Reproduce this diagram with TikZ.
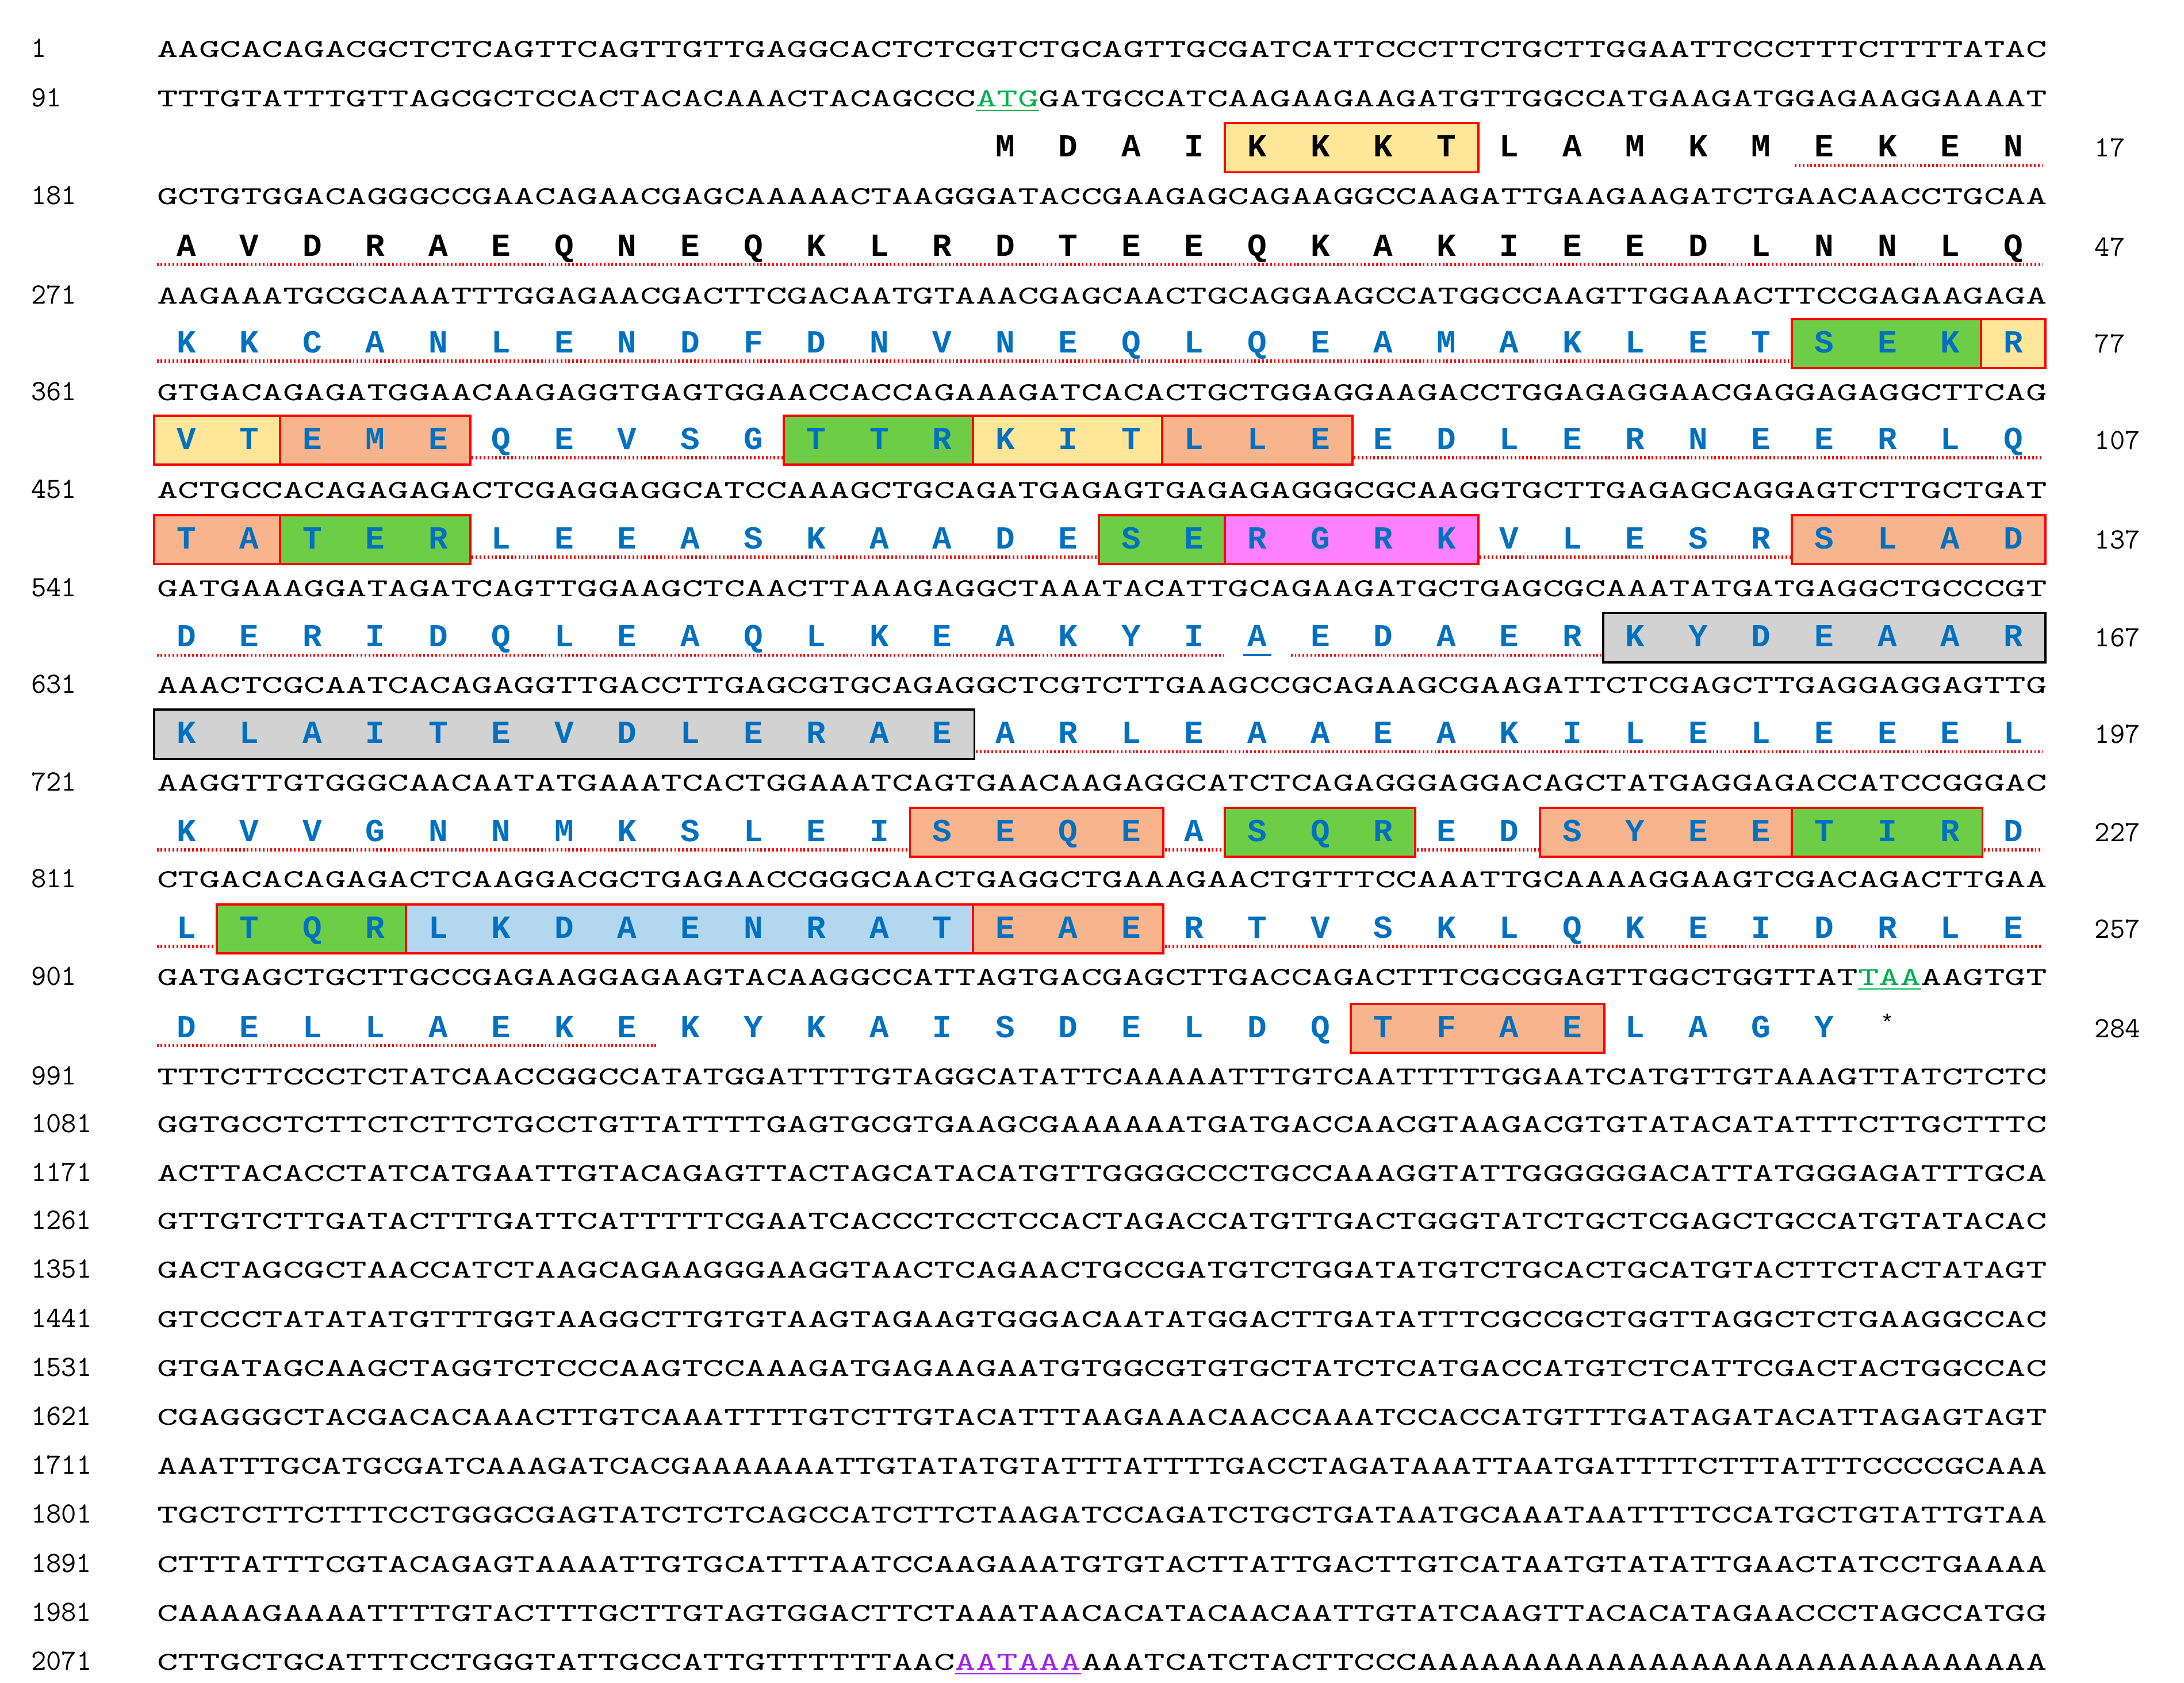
\documentclass[tikz,border=0pt]{standalone}
\usepackage{fontspec}
\usepackage{graphicx}
\newfontfamily\resf{Liberation Mono}
\newcommand\dnaf{\ttfamily}
\newcommand\numf{\ttfamily}
\definecolor{pblue}{RGB}{0,112,192}
\definecolor{gyel}{RGB}{255,230,153}
\definecolor{gorg}{RGB}{248,180,140}
\definecolor{ggrn}{RGB}{110,205,70}
\definecolor{gmag}{RGB}{255,128,255}
\definecolor{ggry}{RGB}{210,210,210}
\definecolor{glbl}{RGB}{180,215,240}
\definecolor{atgc}{RGB}{0,176,80}
\definecolor{polya}{RGB}{160,32,240}
\tikzset{
 res/.style={inner sep=0pt,anchor=base,font=\resf\bfseries\fontsize{23}{23}\selectfont},
 dnal/.style={inner sep=0pt,anchor=base west},
 lnum/.style={inner sep=0pt,anchor=base west,font=\numf\fontsize{21}{21}\selectfont},
 redul/.style={draw=red,line width=2.2pt,dash pattern=on 1.2pt off 1.6pt},
}
\newcommand\dnaline[4]{% name, y, number, text
 \node[lnum] (n#1) at (22,#2+6) {#3};
 \node[dnal] (d#1) at (112,#2+6) {\resizebox{1350pt}{11.5pt}{\dnaf #4}};}
\newcommand\prot[4]{% y, x0, color, list
 \foreach \r [count=\i from 0] in {#4} {\node[res,text=#3] (r#1-\i) at ({#2+45*\i},#1+7) {\r};}}
\newcommand\seg[6]{% y,x0,i,j,fill,border
 \draw[fill=#5,draw=#6,line width=1.6pt] ({#2+45*#3-23},#1-17) rectangle ({#2+45*#4+23},#1+18);}
\newcommand\ulr[4]{% y,x0,i,j
 \draw[redul] ({#2+45*#3-21},#1+13) -- ({#2+45*#4+21},#1+13);}
\newcommand\rnum[3]{\node[lnum] (rn#1) at (1496,#1+7) {#2};}
\begin{document}
\begin{tikzpicture}[x=1pt,y=-1pt]
\useasboundingbox[fill=white] (0,0) rectangle (1560,1202);
% boxes
\seg{105}{718}{4}{7}{gyel}{red}
\seg{245}{133}{26}{28}{ggrn}{red}\seg{245}{133}{29}{29}{gyel}{red}
\seg{314}{133}{0}{1}{gyel}{red}\seg{314}{133}{2}{4}{gorg}{red}\seg{314}{133}{10}{12}{ggrn}{red}\seg{314}{133}{13}{15}{gyel}{red}\seg{314}{133}{16}{18}{gorg}{red}
\seg{385}{133}{0}{1}{gorg}{red}\seg{385}{133}{2}{4}{ggrn}{red}\seg{385}{133}{15}{16}{ggrn}{red}\seg{385}{133}{17}{20}{gmag}{red}\seg{385}{133}{26}{29}{gorg}{red}
\seg{455}{133}{23}{29}{ggry}{black}
\seg{524}{133}{0}{12}{ggry}{black}
\seg{594}{133}{12}{15}{gorg}{red}\seg{594}{133}{17}{19}{ggrn}{red}\seg{594}{133}{22}{25}{gorg}{red}\seg{594}{133}{26}{28}{ggrn}{red}
\seg{663}{133}{1}{3}{ggrn}{red}\seg{663}{133}{4}{12}{glbl}{red}\seg{663}{133}{13}{15}{gorg}{red}
\seg{734}{133}{19}{22}{gorg}{red}
% underlines
\ulr{105}{718}{13}{16}
\ulr{176}{133}{0}{29}
\ulr{245}{133}{0}{25}
\ulr{314}{133}{5}{9}\ulr{314}{133}{19}{29}
\ulr{385}{133}{5}{14}\ulr{385}{133}{21}{25}
\ulr{455}{133}{0}{16}\ulr{455}{133}{18}{22}
\draw[draw=pblue,line width=1.6pt] (133+45*17-10,455+13) -- (133+45*17+10,455+13);
\ulr{524}{133}{13}{29}
\ulr{594}{133}{0}{11}\ulr{594}{133}{16}{16}\ulr{594}{133}{20}{21}\ulr{594}{133}{29}{29}
\ulr{663}{133}{0}{0}\ulr{663}{133}{16}{29}
\ulr{734}{133}{0}{7}
% DNA
\dnaline{1}{35}{1}{AAGCACAGACGCTCTCAGTTCAGTTGTTGAGGCACTCTCGTCTGCAGTTGCGATCATTCCCTTCTGCTTGGAATTCCCTTTCTTTTATAC}
\dnaline{2}{70}{91}{TTTGTATTTGTTAGCGCTCCACTACACAAACTACAGCCC\textcolor{atgc}{\underline{ATG}}GATGCCATCAAGAAGAAGATGTTGGCCATGAAGATGGAGAAGGAAAAT}
\dnaline{3}{140}{181}{GCTGTGGACAGGGCCGAACAGAACGAGCAAAAACTAAGGGATACCGAAGAGCAGAAGGCCAAGATTGAAGAAGATCTGAACAACCTGCAA}
\dnaline{4}{211}{271}{AAGAAATGCGCAAATTTGGAGAACGACTTCGACAATGTAAACGAGCAACTGCAGGAAGCCATGGCCAAGTTGGAAACTTCCGAGAAGAGA}
\dnaline{5}{280}{361}{GTGACAGAGATGGAACAAGAGGTGAGTGGAACCACCAGAAAGATCACACTGCTGGAGGAAGACCTGGAGAGGAACGAGGAGAGGCTTCAG}
\dnaline{6}{350}{451}{ACTGCCACAGAGAGACTCGAGGAGGCATCCAAAGCTGCAGATGAGAGTGAGAGAGGGCGCAAGGTGCTTGAGAGCAGGAGTCTTGCTGAT}
\dnaline{7}{420}{541}{GATGAAAGGATAGATCAGTTGGAAGCTCAACTTAAAGAGGCTAAATACATTGCAGAAGATGCTGAGCGCAAATATGATGAGGCTGCCCGT}
\dnaline{8}{489}{631}{AAACTCGCAATCACAGAGGTTGACCTTGAGCGTGCAGAGGCTCGTCTTGAAGCCGCAGAAGCGAAGATTCTCGAGCTTGAGGAGGAGTTG}
\dnaline{9}{559}{721}{AAGGTTGTGGGCAACAATATGAAATCACTGGAAATCAGTGAACAAGAGGCATCTCAGAGGGAGGACAGCTATGAGGAGACCATCCGGGAC}
\dnaline{10}{628}{811}{CTGACACAGAGACTCAAGGACGCTGAGAACCGGGCAACTGAGGCTGAAAGAACTGTTTCCAAATTGCAAAAGGAAGTCGACAGACTTGAA}
\dnaline{11}{698}{901}{GATGAGCTGCTTGCCGAGAAGGAGAAGTACAAGGCCATTAGTGACGAGCTTGACCAGACTTTCGCGGAGTTGGCTGGTTAT\textcolor{atgc}{\underline{TAA}}AAGTGT}
\dnaline{12}{769}{991}{TTTCTTCCCTCTATCAACCGGCCATATGGATTTTGTAGGCATATTCAAAAATTTGTCAATTTTTGGAATCATGTTGTAAAGTTATCTCTC}
\dnaline{13}{803}{1081}{GGTGCCTCTTCTCTTCTGCCTGTTATTTTGAGTGCGTGAAGCGAAAAAATGATGACCAACGTAAGACGTGTATACATATTTCTTGCTTTC}
\dnaline{14}{838}{1171}{ACTTACACCTATCATGAATTGTACAGAGTTACTAGCATACATGTTGGGGCCCTGCCAAAGGTATTGGGGGGACATTATGGGAGATTTGCA}
\dnaline{15}{872}{1261}{GTTGTCTTGATACTTTGATTCATTTTTCGAATCACCCTCCTCCACTAGACCATGTTGACTGGGTATCTGCTCGAGCTGCCATGTATACAC}
\dnaline{16}{907}{1351}{GACTAGCGCTAACCATCTAAGCAGAAGGGAAGGTAACTCAGAACTGCCGATGTCTGGATATGTCTGCACTGCATGTACTTCTACTATAGT}
\dnaline{17}{942}{1441}{GTCCCTATATATGTTTGGTAAGGCTTGTGTAAGTAGAAGTGGGACAATATGGACTTGATATTTCGCCGCTGGTTAGGCTCTGAAGGCCAC}
\dnaline{18}{977}{1531}{GTGATAGCAAGCTAGGTCTCCCAAGTCCAAAGATGAGAAGAATGTGGCGTGTGCTATCTCATGACCATGTCTCATTCGACTACTGGCCAC}
\dnaline{19}{1012}{1621}{CGAGGGCTACGACACAAACTTGTCAAATTTTGTCTTGTACATTTAAGAAACAACCAAATCCACCATGTTTGATAGATACATTAGAGTAGT}
\dnaline{20}{1047}{1711}{AAATTTGCATGCGATCAAAGATCACGAAAAAAATTGTATATGTATTTATTTTGACCTAGATAAATTAATGATTTTCTTTATTTCCCCGCAAA}
\dnaline{21}{1082}{1801}{TGCTCTTCTTTCCTGGGCGAGTATCTCTCAGCCATCTTCTAAGATCCAGATCTGCTGATAATGCAAATAATTTTCCATGCTGTATTGTAA}
\dnaline{22}{1117}{1891}{CTTTATTTCGTACAGAGTAAAATTGTGCATTTAATCCAAGAAATGTGTACTTATTGACTTGTCATAATGTATATTGAACTATCCTGAAAA}
\dnaline{23}{1152}{1981}{CAAAAGAAAATTTTGTACTTTGCTTGTAGTGGACTTCTAAATAACACATACAACAATTGTATCAAGTTACACATAGAACCCTAGCCATGG}
\dnaline{24}{1187}{2071}{CTTGCTGCATTTCCTGGGTATTGCCATTGTTTTTTAAC\textcolor{polya}{\underline{AATAAA}}AAATCATCTACTTCCCAAAAAAAAAAAAAAAAAAAAAAAAAAAAAA}
% proteins
\prot{105}{718}{black}{M,D,A,I,K,K,K,T,L,A,M,K,M,E,K,E,N}
\prot{176}{133}{black}{A,V,D,R,A,E,Q,N,E,Q,K,L,R,D,T,E,E,Q,K,A,K,I,E,E,D,L,N,N,L,Q}
\prot{245}{133}{pblue}{K,K,C,A,N,L,E,N,D,F,D,N,V,N,E,Q,L,Q,E,A,M,A,K,L,E,T,S,E,K,R}
\prot{314}{133}{pblue}{V,T,E,M,E,Q,E,V,S,G,T,T,R,K,I,T,L,L,E,E,D,L,E,R,N,E,E,R,L,Q}
\prot{385}{133}{pblue}{T,A,T,E,R,L,E,E,A,S,K,A,A,D,E,S,E,R,G,R,K,V,L,E,S,R,S,L,A,D}
\prot{455}{133}{pblue}{D,E,R,I,D,Q,L,E,A,Q,L,K,E,A,K,Y,I,A,E,D,A,E,R,K,Y,D,E,A,A,R}
\prot{524}{133}{pblue}{K,L,A,I,T,E,V,D,L,E,R,A,E,A,R,L,E,A,A,E,A,K,I,L,E,L,E,E,E,L}
\prot{594}{133}{pblue}{K,V,V,G,N,N,M,K,S,L,E,I,S,E,Q,E,A,S,Q,R,E,D,S,Y,E,E,T,I,R,D}
\prot{663}{133}{pblue}{L,T,Q,R,L,K,D,A,E,N,R,A,T,E,A,E,R,T,V,S,K,L,Q,K,E,I,D,R,L,E}
\prot{734}{133}{pblue}{D,E,L,L,A,E,K,E,K,Y,K,A,I,S,D,E,L,D,Q,T,F,A,E,L,A,G,Y}
\node[inner sep=0pt,anchor=base,font=\resf\fontsize{16}{16}\selectfont] (stop) at (133+45*27,734+2) {*};
\rnum{105}{17}{}\rnum{176}{47}{}\rnum{245}{77}{}\rnum{314}{107}{}\rnum{385}{137}{}
\rnum{455}{167}{}\rnum{524}{197}{}\rnum{594}{227}{}\rnum{663}{257}{}\rnum{734}{284}{}
\end{tikzpicture}
\end{document}
